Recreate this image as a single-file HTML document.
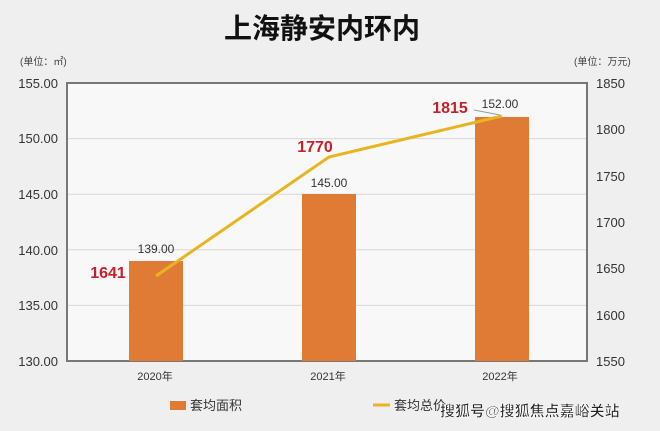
<!DOCTYPE html>
<html><head><meta charset="utf-8"><style>
body{margin:0;background:#efefef;}
svg{display:block;font-family:"Liberation Sans","Noto Sans CJK SC",sans-serif;}
</style></head><body>
<svg width="660" height="431" viewBox="0 0 660 431">
<rect width="660" height="431" fill="#efefef"/>
<text x="322" y="38" text-anchor="middle" font-size="28" font-weight="bold" fill="#111" font-family="'Noto Sans CJK SC',sans-serif">上海静安内环内</text>
<text x="20" y="65" font-size="10" fill="#444">(单位：㎡)</text>
<text x="574" y="65" font-size="10" fill="#444">(单位：万元)</text>
<rect x="67" y="83" width="520" height="278" fill="#f8f8f8" stroke="#777" stroke-width="2"/>
<g stroke="#d8d8d8" stroke-width="1">
<line x1="68" y1="138.6" x2="586" y2="138.6"/>
<line x1="68" y1="194.2" x2="586" y2="194.2"/>
<line x1="68" y1="249.8" x2="586" y2="249.8"/>
<line x1="68" y1="305.4" x2="586" y2="305.4"/>
</g>
<g font-size="13" fill="#333" text-anchor="end">
<text x="58" y="88">155.00</text><text x="58" y="143">150.00</text><text x="58" y="199">145.00</text>
<text x="58" y="255">140.00</text><text x="58" y="310">135.00</text><text x="58" y="366">130.00</text>
</g>
<g font-size="13" fill="#333">
<text x="596" y="88">1850</text><text x="596" y="134">1800</text><text x="596" y="181">1750</text>
<text x="596" y="227">1700</text><text x="596" y="273">1650</text><text x="596" y="320">1600</text><text x="596" y="366">1550</text>
</g>
<g fill="#e07b35">
<rect x="129" y="261" width="54" height="100"/>
<rect x="302" y="194" width="54" height="167"/>
<rect x="475" y="117" width="54" height="244"/>
</g>
<polyline points="156,276 329,157 502,116" fill="none" stroke="#e8b520" stroke-width="3"/>
<g font-size="12" fill="#333" text-anchor="middle">
<text x="156" y="253">139.00</text><text x="329" y="187">145.00</text><text x="500" y="108">152.00</text>
</g>
<line x1="474" y1="110" x2="500" y2="115" stroke="#999" stroke-width="1"/>
<g font-size="16" font-weight="bold" fill="#c8202a" text-anchor="middle">
<text x="108" y="278">1641</text><text x="315" y="152">1770</text><text x="450" y="113">1815</text>
</g>
<g font-size="11" fill="#333" text-anchor="middle">
<text x="155" y="380">2020年</text><text x="328" y="380">2021年</text><text x="500" y="380">2022年</text>
</g>
<rect x="170" y="401" width="16" height="9" fill="#e07b35"/>
<text x="190" y="410" font-size="13" fill="#333">套均面积</text>
<line x1="373" y1="405" x2="390" y2="405" stroke="#e8b520" stroke-width="3"/>
<text x="394" y="410" font-size="13" fill="#333">套均总价</text>
<text x="440" y="416" font-size="15" font-weight="bold" fill="#222" stroke="#fff" stroke-width="0.6">搜狐号@搜狐焦点嘉峪关站</text>
</svg>
</body></html>
